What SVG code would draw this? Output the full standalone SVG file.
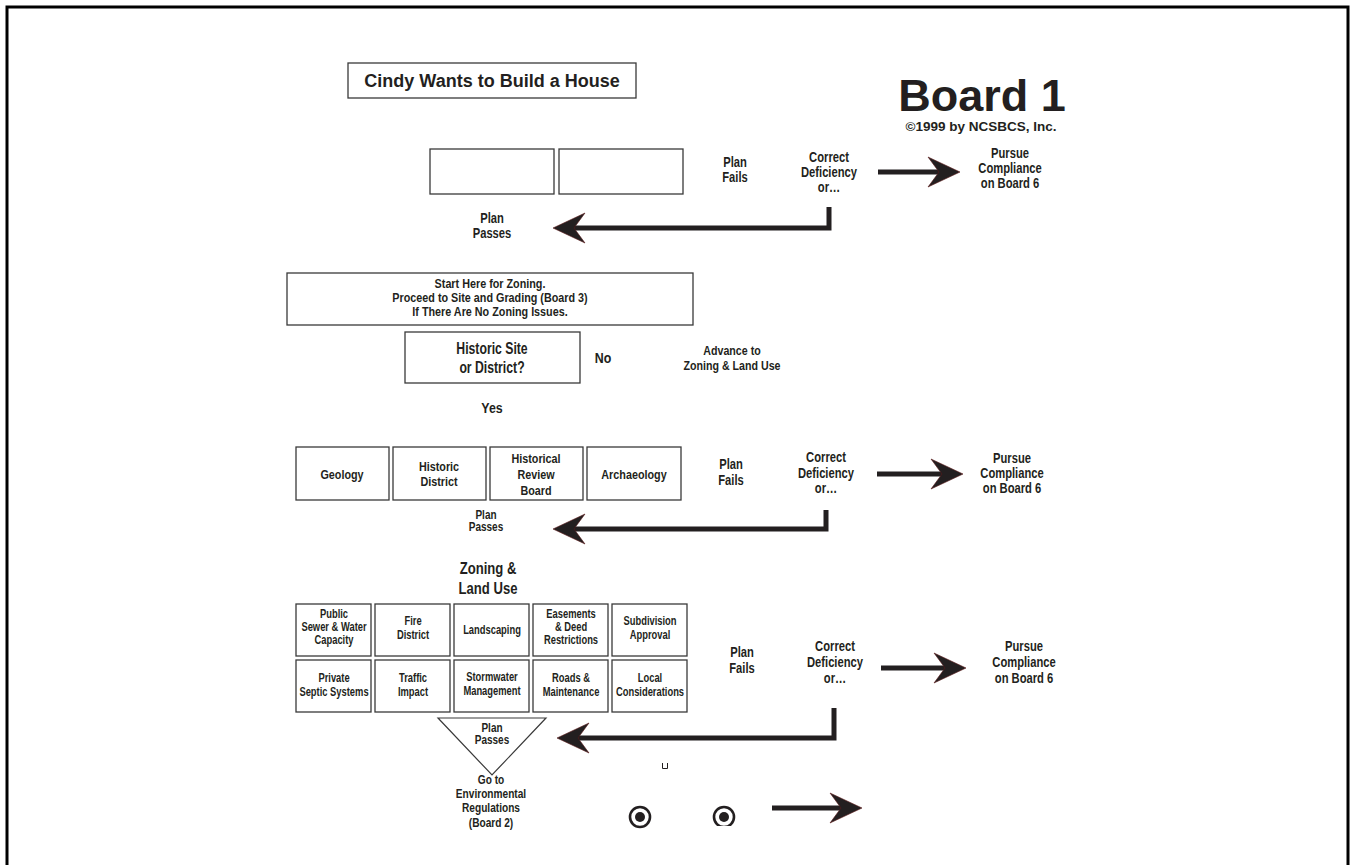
<svg xmlns="http://www.w3.org/2000/svg" width="1351" height="865" viewBox="0 0 1351 865">
<style>
.bx{fill:#fff;stroke:#3a3a3a;stroke-width:1.3}
.t{font-family:"Liberation Sans",Arial,sans-serif;font-weight:bold;fill:#231f20;text-anchor:middle}
.l{font-size:14px}.g{font-size:12.5px}.m{font-size:13.5px}.k{font-size:13px}.b{font-size:17px}.p{font-size:12.5px}
.h{font-family:"Liberation Sans",Arial,sans-serif;font-weight:bold;fill:#231f20;text-anchor:middle}
.ar{fill:none;stroke:#231f20;stroke-width:5}
</style>
<defs>
<marker id="ah" viewBox="-33 -16 34 32" markerWidth="34" markerHeight="32" refX="-15" refY="0" markerUnits="userSpaceOnUse" orient="auto">
<path d="M0,0 L-32,-15 L-21,0 L-32,15 Z" fill="#231f20" stroke="#5a1a1a" stroke-width="0.6"/>
</marker>
<clipPath id="clipc"><rect x="700" y="790" width="60" height="36"/></clipPath>
</defs>
<rect width="1351" height="865" fill="#fff"/>
<path d="M7,870 V7 H1348 V870" fill="none" stroke="#000" stroke-width="3"/>

<g id="title"><rect class="bx" x="348" y="63" width="288" height="35"/><text class="h" x="492" y="87" font-size="18" fill="#2a2a2a">Cindy Wants to Build a House</text></g>
<g id="board"><text class="h" x="982" y="111" font-size="45">Board 1</text><text class="h" x="981" y="131" font-size="13.5">©1999 by NCSBCS, Inc.</text></g>

<g id="r1box1"><rect class="bx" x="430" y="149" width="124" height="45"/></g>
<g id="r1box2"><rect class="bx" x="559" y="149" width="124" height="45"/></g>
<g id="r1fails" transform="translate(735 0) scale(0.8 1)"><text class="t l" x="0" y="167">Plan</text><text class="t l" x="0" y="182">Fails</text></g>
<g id="r1correct" transform="translate(829 0) scale(0.8 1)"><text class="t l" x="0" y="162">Correct</text><text class="t l" x="0" y="177">Deficiency</text><text class="t l" x="0" y="192">or…</text></g>
<g id="r1pursue" transform="translate(1010 0) scale(0.8 1)"><text class="t l" x="0" y="158">Pursue</text><text class="t l" x="0" y="173">Compliance</text><text class="t l" x="0" y="188">on Board 6</text></g>
<g id="r1passes" transform="translate(492 0) scale(0.8 1)"><text class="t l" x="0" y="223">Plan</text><text class="t l" x="0" y="238">Passes</text></g>

<g id="start"><rect class="bx" x="287" y="273" width="406" height="52"/><g transform="translate(490 0) scale(0.83 1)"><text class="t k" x="0" y="288">Start Here for Zoning.</text><text class="t k" x="0" y="302">Proceed to Site and Grading (Board 3)</text><text class="t k" x="0" y="316">If There Are No Zoning Issues.</text></g></g>
<g id="historic"><rect class="bx" x="405" y="332" width="175" height="51"/><g transform="translate(492 0) scale(0.72 1)"><text class="t b" x="0" y="354">Historic Site</text><text class="t b" x="0" y="373">or District?</text></g></g>
<g id="no" transform="translate(603 0) scale(0.8 1)"><text class="t" font-size="15.5" x="0" y="363">No</text></g>
<g id="advance" transform="translate(732 0) scale(0.82 1)"><text class="t k" x="0" y="355">Advance to</text><text class="t k" x="0" y="370">Zoning &amp; Land Use</text></g>
<g id="yes" transform="translate(492 0) scale(0.8 1)"><text class="t" font-size="15.5" x="0" y="413">Yes</text></g>

<g id="geology"><rect class="bx" x="296" y="447" width="93" height="53"/><text class="t m" transform="translate(342 0) scale(0.8 1)" x="0" y="479">Geology</text></g>
<g id="hdistrict"><rect class="bx" x="393" y="447" width="93" height="53"/><g transform="translate(439 0) scale(0.8 1)"><text class="t m" x="0" y="471">Historic</text><text class="t m" x="0" y="486">District</text></g></g>
<g id="hreview"><rect class="bx" x="490" y="447" width="93" height="53"/><g transform="translate(536 0) scale(0.8 1)"><text class="t m" x="0" y="463">Historical</text><text class="t m" x="0" y="479">Review</text><text class="t m" x="0" y="495">Board</text></g></g>
<g id="archaeology"><rect class="bx" x="587" y="447" width="94" height="53"/><text class="t m" transform="translate(634 0) scale(0.8 1)" x="0" y="479">Archaeology</text></g>
<g id="r2fails" transform="translate(731 0) scale(0.8 1)"><text class="t l" x="0" y="469">Plan</text><text class="t l" x="0" y="485">Fails</text></g>
<g id="r2correct" transform="translate(826 0) scale(0.8 1)"><text class="t l" x="0" y="462">Correct</text><text class="t l" x="0" y="478">Deficiency</text><text class="t l" x="0" y="493">or…</text></g>
<g id="r2pursue" transform="translate(1012 0) scale(0.8 1)"><text class="t l" x="0" y="463">Pursue</text><text class="t l" x="0" y="478">Compliance</text><text class="t l" x="0" y="493">on Board 6</text></g>
<g id="r2passes" transform="translate(486 0) scale(0.8 1)"><text class="t p" x="0" y="519">Plan</text><text class="t p" x="0" y="531">Passes</text></g>
<g id="zoning" transform="translate(488 0) scale(0.77 1)"><text class="t b" x="0" y="574">Zoning &amp;</text><text class="t b" x="0" y="594">Land Use</text></g>

<g id="sewer"><rect class="bx" x="296" y="604" width="75" height="52"/><g transform="translate(334 0) scale(0.75 1)"><text class="t g" x="0" y="618">Public</text><text class="t g" x="0" y="631">Sewer &amp; Water</text><text class="t g" x="0" y="644">Capacity</text></g></g>
<g id="fire"><rect class="bx" x="375" y="604" width="75" height="52"/><g transform="translate(413 0) scale(0.75 1)"><text class="t g" x="0" y="625">Fire</text><text class="t g" x="0" y="639">District</text></g></g>
<g id="landscaping"><rect class="bx" x="454" y="604" width="75" height="52"/><text class="t g" transform="translate(492 0) scale(0.75 1)" x="0" y="634">Landscaping</text></g>
<g id="easements"><rect class="bx" x="533" y="604" width="75" height="52"/><g transform="translate(571 0) scale(0.75 1)"><text class="t g" x="0" y="618">Easements</text><text class="t g" x="0" y="631">&amp; Deed</text><text class="t g" x="0" y="644">Restrictions</text></g></g>
<g id="subdivision"><rect class="bx" x="612" y="604" width="75" height="52"/><g transform="translate(650 0) scale(0.75 1)"><text class="t g" x="0" y="625">Subdivision</text><text class="t g" x="0" y="639">Approval</text></g></g>
<g id="septic"><rect class="bx" x="296" y="660" width="75" height="52"/><g transform="translate(334 0) scale(0.75 1)"><text class="t g" x="0" y="682">Private</text><text class="t g" x="0" y="696">Septic Systems</text></g></g>
<g id="traffic"><rect class="bx" x="375" y="660" width="75" height="52"/><g transform="translate(413 0) scale(0.75 1)"><text class="t g" x="0" y="682">Traffic</text><text class="t g" x="0" y="696">Impact</text></g></g>
<g id="stormwater"><rect class="bx" x="454" y="660" width="75" height="52"/><g transform="translate(492 0) scale(0.75 1)"><text class="t g" x="0" y="681">Stormwater</text><text class="t g" x="0" y="695">Management</text></g></g>
<g id="roads"><rect class="bx" x="533" y="660" width="75" height="52"/><g transform="translate(571 0) scale(0.75 1)"><text class="t g" x="0" y="682">Roads &amp;</text><text class="t g" x="0" y="696">Maintenance</text></g></g>
<g id="local"><rect class="bx" x="612" y="660" width="75" height="52"/><g transform="translate(650 0) scale(0.75 1)"><text class="t g" x="0" y="682">Local</text><text class="t g" x="0" y="696">Considerations</text></g></g>

<g id="r3passes"><path d="M438,718 H546 L492,775 Z" fill="#fff" stroke="#3a3a3a" stroke-width="1.2"/><g transform="translate(492 0) scale(0.8 1)"><text class="t p" x="0" y="732">Plan</text><text class="t p" x="0" y="744">Passes</text></g></g>
<g id="goto" transform="translate(491 0) scale(0.78 1)"><text class="t k" x="0" y="784">Go to</text><text class="t k" x="0" y="798">Environmental</text><text class="t k" x="0" y="812">Regulations</text><text class="t k" x="0" y="827">(Board 2)</text></g>
<g id="r3fails" transform="translate(742 0) scale(0.8 1)"><text class="t l" x="0" y="657">Plan</text><text class="t l" x="0" y="673">Fails</text></g>
<g id="r3correct" transform="translate(835 0) scale(0.8 1)"><text class="t l" x="0" y="651">Correct</text><text class="t l" x="0" y="667">Deficiency</text><text class="t l" x="0" y="683">or…</text></g>
<g id="r3pursue" transform="translate(1024 0) scale(0.8 1)"><text class="t l" x="0" y="651">Pursue</text><text class="t l" x="0" y="667">Compliance</text><text class="t l" x="0" y="683">on Board 6</text></g>

<g id="mark"><path d="M662.5,763 V768.5 H667.5 V763" fill="none" stroke="#231f20" stroke-width="1"/></g>
<g id="circle1"><circle cx="640" cy="817" r="10" fill="#fff" stroke="#231f20" stroke-width="2.6"/><circle cx="640" cy="817" r="5" fill="#231f20"/></g>
<g id="circle2" clip-path="url(#clipc)"><circle cx="724" cy="817" r="10" fill="#fff" stroke="#231f20" stroke-width="2.6"/><circle cx="724" cy="817" r="5" fill="#231f20"/></g>

<g id="connectors">
<path class="ar" d="M878,172 H945" marker-end="url(#ah)"/>
<path class="ar" d="M829,207 V228 H568" marker-end="url(#ah)"/>
<path class="ar" d="M877,474 H948" marker-end="url(#ah)"/>
<path class="ar" d="M826,510 V529 H568" marker-end="url(#ah)"/>
<path class="ar" d="M881,668 H951" marker-end="url(#ah)"/>
<path class="ar" d="M834,708 V738 H572" marker-end="url(#ah)"/>
<path class="ar" d="M772,808 H847" marker-end="url(#ah)"/>
</g>
</svg>
